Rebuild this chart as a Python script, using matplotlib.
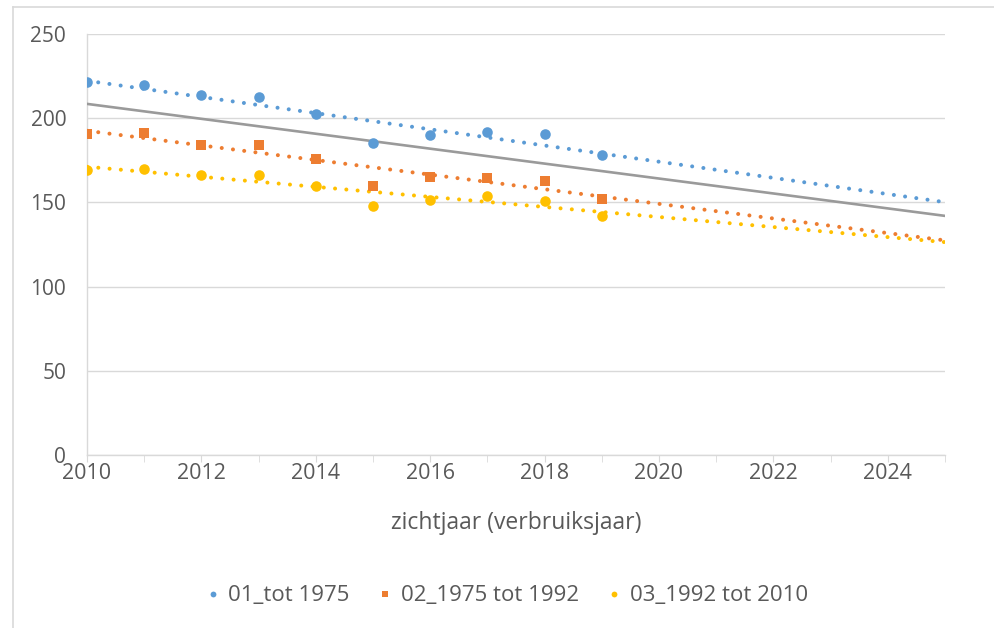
import numpy as np
import matplotlib
matplotlib.use('Agg')
import matplotlib.pyplot as plt
from matplotlib.lines import Line2D

# data
years = [2010, 2011, 2012, 2013, 2014, 2015, 2016, 2017, 2018, 2019]
tot_1975 = [221.5, 220, 214, 212.5, 202.5, 185, 190, 192, 190.5, 178]
b1975_1992 = [190.5, 191.5, 184, 184, 175.5, 160, 165, 164.5, 163, 152]
b1992_2010 = [169, 170, 166, 166.5, 159.5, 148, 151.5, 154, 151, 142]
series_names = ['01_tot 1975', '02_1975 tot 1992', '03_1992 tot 2010']
overall_trend_years = [2010, 2025]
overall_trend_vals = [208.5, 142]
x_ticks = list(range(2010, 2026, 2))
y_ticks = [0, 50, 100, 150, 200, 250]

colors = ['#5B9BD5', '#ED7D31', '#FFC000']
markers = ['o', 's', 'o']
msizes = [7.6, 7.2, 7.6]
txt_col = '#595959'
grid_col = '#D9D9D9'

plt.rcParams['font.family'] = ['Open Sans', 'DejaVu Sans']

fig = plt.figure(figsize=(9.94, 6.28), dpi=100)
ax = fig.add_axes([87/994, 1-455/628, (945-87)/994, (455-34)/628])

# frame lines of the original chart box
fig.add_artist(Line2D([13/994, 13/994], [0, 1-7/628], transform=fig.transFigure, color=grid_col, lw=1.2))
fig.add_artist(Line2D([13/994, 1], [1-7/628, 1-7/628], transform=fig.transFigure, color=grid_col, lw=1.2))

fit_x = np.array([2010, 2025])
all_series = [tot_1975, b1975_1992, b1992_2010]
for vals, c in zip(all_series, colors):
    k, m = np.polyfit(years, vals, 1)
    ax.plot(fit_x, k*fit_x + m, color=c, lw=2.9, linestyle=(0, (0.01, 2.8)),
            dash_capstyle='round', zorder=3)

ax.plot(overall_trend_years, overall_trend_vals, color='#9A9A9A', lw=1.9, zorder=3)

handles = []
for vals, c, mk, ms, name in zip(all_series, colors, markers, msizes, series_names):
    h, = ax.plot(years, vals, linestyle='none', marker=mk, ms=ms, color=c,
                 markeredgewidth=0, zorder=4, label=name)
    handles.append(h)

ax.set_xlim(2010, 2025)
ax.set_ylim(0, 250)
ax.set_xticks(x_ticks)
ax.set_xticks(range(2010, 2026), minor=True)
ax.set_yticks(y_ticks)
ax.yaxis.grid(True, color=grid_col, lw=1.0)
ax.set_axisbelow(True)
for s in ['top', 'right']:
    ax.spines[s].set_visible(False)
for s in ['left', 'bottom']:
    ax.spines[s].set_color(grid_col)
    ax.spines[s].set_linewidth(1.0)
ax.tick_params(axis='y', length=0, labelsize=15, labelcolor=txt_col, pad=15)
ax.tick_params(axis='x', which='both', length=5, color=grid_col, labelsize=15.5,
               labelcolor=txt_col, pad=1)
ax.set_xlabel('zichtjaar (verbruiksjaar)', fontsize=16.5, color=txt_col, labelpad=19)

leg = fig.legend(handles=handles, loc='center', bbox_to_anchor=(507/994, 1-596/628),
                 ncol=3, frameon=False, fontsize=16, markerscale=0.55,
                 handlelength=0.6, handletextpad=0.4, columnspacing=1.3)
for t in leg.get_texts():
    t.set_color(txt_col)

fig.savefig('out.png', dpi=100)
